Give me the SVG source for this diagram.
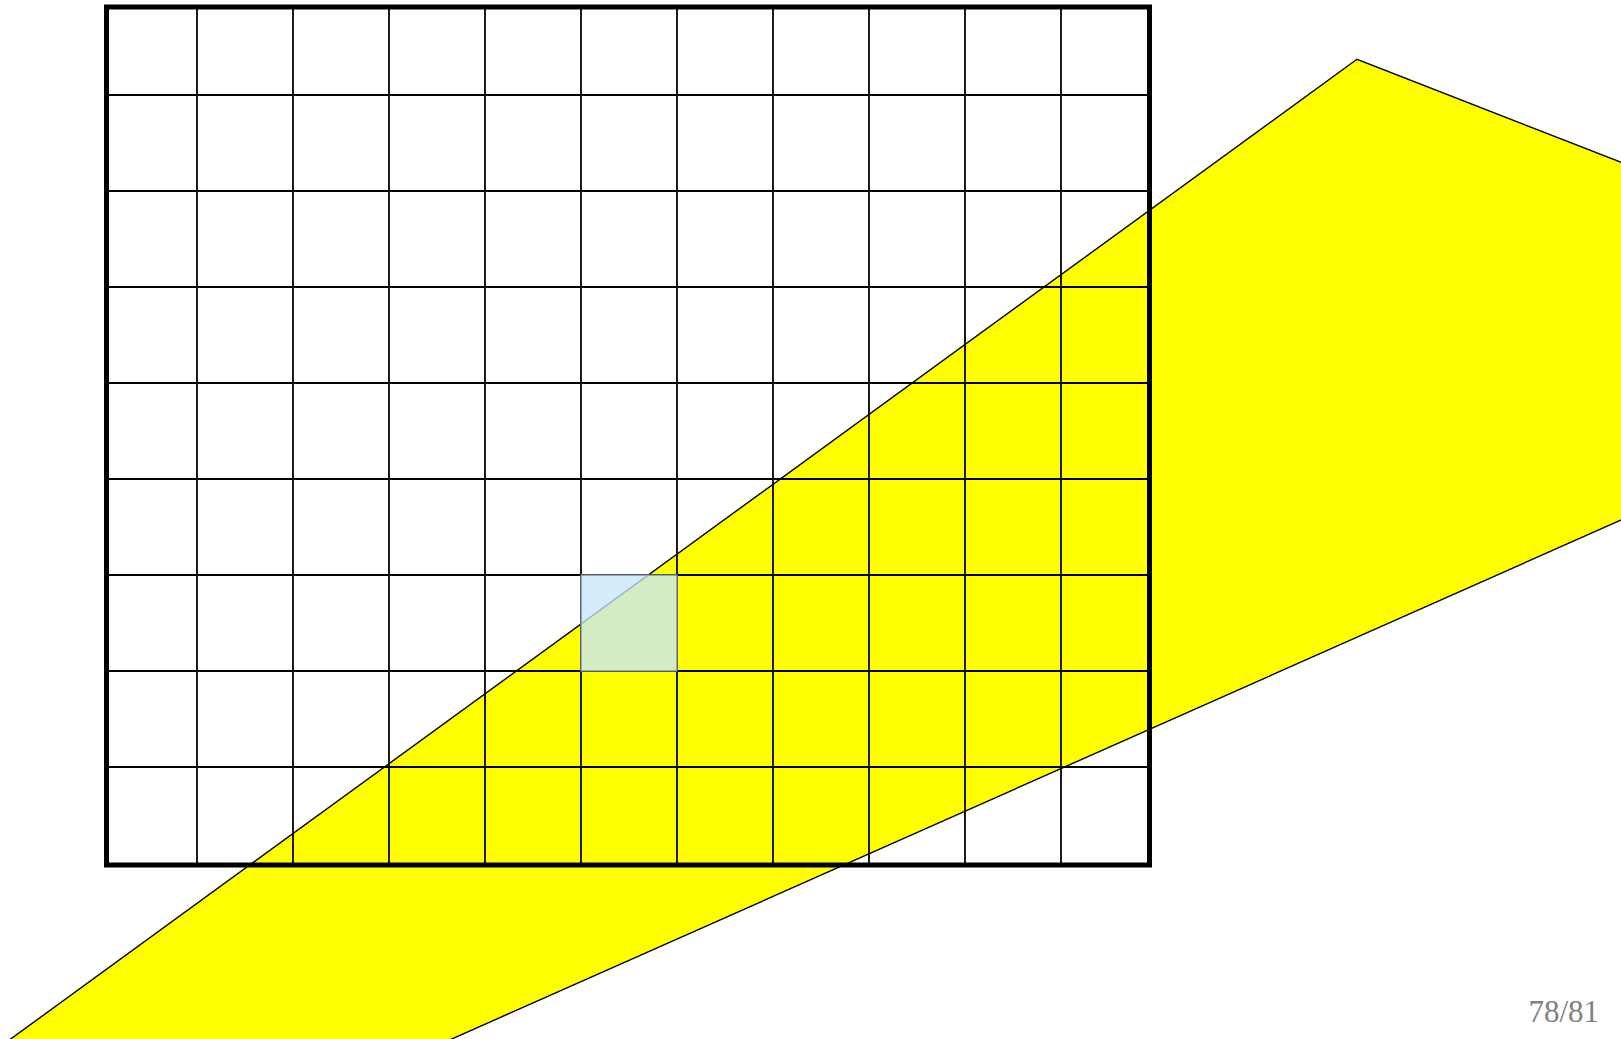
<svg xmlns="http://www.w3.org/2000/svg" width="1621" height="1039" viewBox="0 0 1621 1039">
<style>
.grid line{stroke:#000;stroke-width:1.8}
.outer{fill:none;stroke:#000;stroke-width:5}
.band{fill:#ffff00;stroke:#000;stroke-width:1.4;stroke-linejoin:miter}
.cell{fill:#c8e6fa;fill-opacity:0.78;stroke:#8c9cac;stroke-width:1.2}
.pnum{font-family:"Liberation Serif",serif;font-size:31px;fill:#808080}
</style>
<rect width="1621" height="1039" fill="#fff"/>
<g id="band">
<polygon class="band" points="-18.2,1060 1357,59.3 1640,169.7 1640,511.6 404.4,1060"/>
</g>
<g id="grid" class="grid">
<line x1="197" y1="7" x2="197" y2="865"/>
<line x1="293" y1="7" x2="293" y2="865"/>
<line x1="389" y1="7" x2="389" y2="865"/>
<line x1="485" y1="7" x2="485" y2="865"/>
<line x1="581" y1="7" x2="581" y2="865"/>
<line x1="677" y1="7" x2="677" y2="865"/>
<line x1="773" y1="7" x2="773" y2="865"/>
<line x1="869" y1="7" x2="869" y2="865"/>
<line x1="965" y1="7" x2="965" y2="865"/>
<line x1="1061" y1="7" x2="1061" y2="865"/>
<line x1="106.5" y1="95" x2="1149.5" y2="95"/>
<line x1="106.5" y1="191" x2="1149.5" y2="191"/>
<line x1="106.5" y1="287" x2="1149.5" y2="287"/>
<line x1="106.5" y1="383" x2="1149.5" y2="383"/>
<line x1="106.5" y1="479" x2="1149.5" y2="479"/>
<line x1="106.5" y1="575" x2="1149.5" y2="575"/>
<line x1="106.5" y1="671" x2="1149.5" y2="671"/>
<line x1="106.5" y1="767" x2="1149.5" y2="767"/>
</g>
<g id="frame">
<rect class="outer" x="106.5" y="7" width="1043" height="858"/>
</g>
<g id="cell">
<rect class="cell" x="581" y="575" width="96" height="96"/>
</g>
<g id="connectors"/>
<text class="pnum" x="1599" y="1021.5" text-anchor="end">78/81</text>
</svg>
